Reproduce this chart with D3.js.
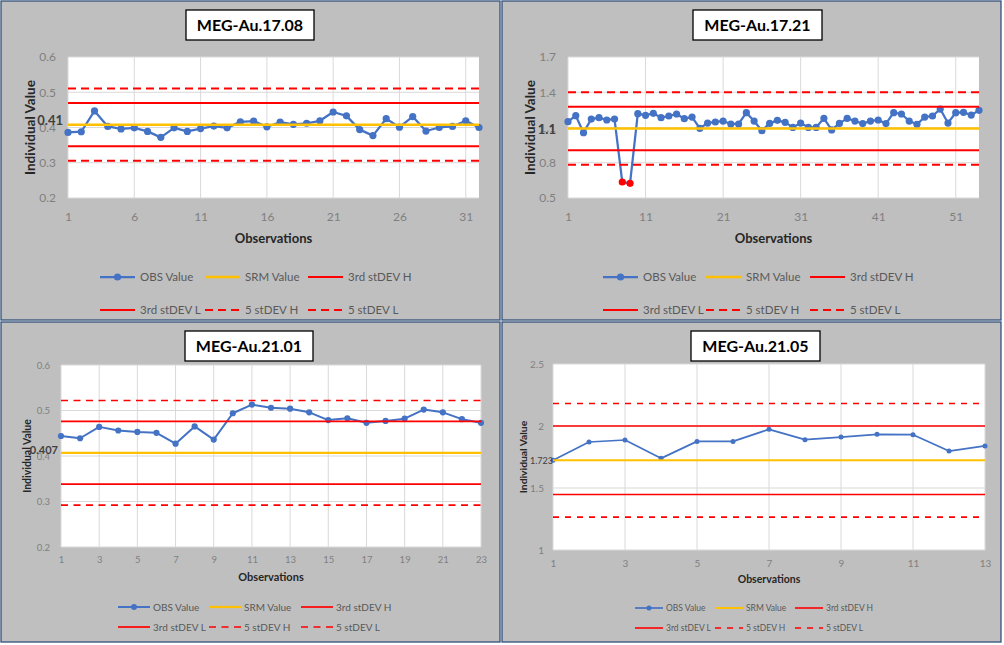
<!DOCTYPE html>
<html><head><meta charset="utf-8">
<script src="https://cdn.jsdelivr.net/npm/d3@7"></script>
<style>body{margin:0;background:#fff;} svg{display:block;} text{font-family:Lato, "Liberation Sans", sans-serif;}</style>
</head><body><svg id="c" width="1004" height="645"></svg>
<script>
// ---------- DATA ----------
const titles = ["MEG-Au.17.08", "MEG-Au.17.21", "MEG-Au.21.01", "MEG-Au.21.05"];
const seriesNames = ["OBS Value", "SRM Value", "3rd stDEV H", "3rd stDEV L", "5 stDEV H", "5 stDEV L"];

const obs1708 = [0.386, 0.388, 0.447, 0.403, 0.396, 0.399, 0.389, 0.372, 0.399, 0.389, 0.397, 0.404, 0.399, 0.416,
  0.418, 0.402, 0.415, 0.409, 0.412, 0.419, 0.444, 0.433, 0.394, 0.377, 0.425, 0.401, 0.431, 0.390, 0.400, 0.403, 0.419, 0.400];
const obs1721 = [1.150, 1.201, 1.056, 1.172, 1.184, 1.164, 1.172, 0.636, 0.625, 1.218, 1.204, 1.221, 1.184, 1.198,
  1.215, 1.175, 1.189, 1.093, 1.138, 1.147, 1.155, 1.130, 1.130, 1.226, 1.155, 1.073, 1.135, 1.161, 1.144, 1.101,
  1.138, 1.101, 1.101, 1.178, 1.079, 1.135, 1.178, 1.155, 1.133, 1.155, 1.164, 1.133, 1.226, 1.215, 1.155, 1.127,
  1.189, 1.198, 1.257, 1.138, 1.226, 1.229, 1.206, 1.246];
const obs2101 = [0.444, 0.439, 0.464, 0.456, 0.453, 0.451, 0.427, 0.465, 0.436, 0.494, 0.513, 0.506, 0.504, 0.496,
  0.479, 0.483, 0.473, 0.477, 0.482, 0.502, 0.496, 0.481, 0.473];
const obs2105 = [1.723, 1.871, 1.887, 1.739, 1.876, 1.876, 1.973, 1.890, 1.911, 1.933, 1.930, 1.798, 1.839];

// limits order: SRM, 3rd stDEV H, 3rd stDEV L, 5 stDEV H, 5 stDEV L
const limits1708 = [0.408, 0.4695, 0.3465, 0.5105, 0.3055];
const limits1721 = [1.092, 1.277, 0.907, 1.400, 0.784];
const limits2101 = [0.407, 0.476, 0.338, 0.522, 0.292];
const limits2105 = [1.723, 2.000, 1.448, 2.182, 1.265];

const srmLabels = ["0.41", "1.1", "0.407", "1.723"];

const yTicks1708 = [0.2, 0.3, 0.4, 0.5, 0.6];
const yTicks1721 = [0.5, 0.8, 1.1, 1.4, 1.7];
const yTicks2101 = [0.2, 0.3, 0.4, 0.5, 0.6];
const yTicks2105 = [1, 1.5, 2, 2.5];
const xTicks1708 = [1, 6, 11, 16, 21, 26, 31];
const xTicks1721 = [1, 11, 21, 31, 41, 51];
const xTicks2101 = [1, 3, 5, 7, 9, 11, 13, 15, 17, 19, 21, 23];
const xTicks2105 = [1, 3, 5, 7, 9, 11, 13];

// ---------- LAYOUT / STYLE ----------
const big = {tick: 12, title: 13.5, obsTitle: 13, leg: 11.5, lw: 2.25, r: 3.6, lim: 2, srm: 2.6, dash: "8,5", lab: 13, labW: "bold", legLen: 35, legGap: 5, legR: 3.6};
const small3 = {tick: 9.5, title: 10.5, obsTitle: 11, leg: 10, lw: 2, r: 3.1, lim: 1.7, srm: 2.2, dash: "7,5.5", lab: 11, labW: "bold", legLen: 32, legGap: 3, legR: 3};
const small4 = {tick: 10, title: 10.3, obsTitle: 10.5, leg: 8.5, lw: 1.7, r: 2.5, lim: 1.6, srm: 2, dash: "6,6", lab: 9, labW: "normal", legLen: 28, legGap: 3, legR: 2.5};

const panels = [
  {title: titles[0], obs: obs1708, lim: limits1708, xDom: [1, 32], yDom: [0.2, 0.6], xT: xTicks1708, yT: yTicks1708, lab: srmLabels[0],
   frame: [1, 1, 499, 319], plot: [68, 57, 479, 198], tbox: [186, 10, 128, 30], st: big,
   yPadR: 12, xLabY: 217, yTitleX: 30, obsY: 238, labX: 63, labDy: -4, legCols: [100, 205, 308], legRows: [277, 310]},
  {title: titles[1], obs: obs1721, lim: limits1721, xDom: [1, 54], yDom: [0.5, 1.7], xT: xTicks1721, yT: yTicks1721, lab: srmLabels[1],
   frame: [502, 1, 499, 319], plot: [568, 57, 979, 198], tbox: [693, 10, 129, 30], st: big,
   yPadR: 12, xLabY: 217, yTitleX: 530, obsY: 238, labX: 556, labDy: 1, legCols: [603, 706, 810], legRows: [277, 310]},
  {title: titles[2], obs: obs2101, lim: limits2101, xDom: [1, 23], yDom: [0.2, 0.6], xT: xTicks2101, yT: yTicks2101, lab: srmLabels[2],
   frame: [1, 322, 499, 320], plot: [61, 365, 481, 547], tbox: [185, 331, 128, 30], st: small3,
   yPadR: 11, xLabY: 560, yTitleX: 27, obsY: 577, labX: 58, labDy: -3, legCols: [118, 209, 301], legRows: [607, 627]},
  {title: titles[3], obs: obs2105, lim: limits2105, xDom: [1, 13], yDom: [1, 2.5], xT: xTicks2105, yT: yTicks2105, lab: srmLabels[3],
   frame: [502, 322, 499, 320], plot: [553, 364, 985, 550], tbox: [691, 331, 129, 30], st: small4,
   yPadR: 9, xLabY: 563, yTitleX: 523, obsY: 579, labX: 553, labDy: 1, legCols: [635, 715, 795], legRows: [608, 628]}
];

const BLUE = "#4472c4", GOLD = "#ffc000", RED = "#ff0000";
const limStyles = [
  {c: GOLD, dash: null, w: "srm"},
  {c: RED, dash: null, w: "lim"},
  {c: RED, dash: null, w: "lim"},
  {c: RED, dash: "d", w: "lim"},
  {c: RED, dash: "d", w: "lim"}
];

const svg = d3.select("#c");

panels.forEach(p => {
  const st = p.st;
  const g = svg.append("g");
  g.append("rect").attr("x", p.frame[0]).attr("y", p.frame[1]).attr("width", p.frame[2]).attr("height", p.frame[3])
    .attr("fill", "#bfbfbf").attr("stroke", "#33507a").attr("stroke-width", 1.3);

  const x = d3.scaleLinear().domain(p.xDom).range([p.plot[0], p.plot[2]]);
  const y = d3.scaleLinear().domain(p.yDom).range([p.plot[3], p.plot[1]]);

  g.append("rect").attr("x", p.plot[0]).attr("y", p.plot[1]).attr("width", p.plot[2] - p.plot[0]).attr("height", p.plot[3] - p.plot[1]).attr("fill", "#fff");

  // gridlines
  g.selectAll(".gy").data(p.yT).join("line").attr("x1", p.plot[0]).attr("x2", p.plot[2])
    .attr("y1", d => y(d)).attr("y2", d => y(d)).attr("stroke", "#d9d9d9").attr("stroke-width", 1);
  g.selectAll(".gx").data(p.xT).join("line").attr("y1", p.plot[1]).attr("y2", p.plot[3])
    .attr("x1", d => x(d)).attr("x2", d => x(d)).attr("stroke", "#d9d9d9").attr("stroke-width", 1);

  // axes
  const ay = g.append("g").attr("transform", `translate(${p.plot[0]},0)`)
    .call(d3.axisLeft(y).tickValues(p.yT).tickSize(0).tickPadding(p.yPadR).tickFormat(d => String(d)));
  ay.select(".domain").remove();
  ay.selectAll("text").attr("fill", "#7f7f7f").attr("font-size", st.tick).attr("font-family", "Lato");
  const ax = g.append("g").attr("transform", `translate(0,${p.plot[3]})`)
    .call(d3.axisBottom(x).tickValues(p.xT).tickSize(0).tickFormat(d => String(d)));
  ax.select(".domain").remove();
  ax.selectAll("text").attr("y", p.xLabY - p.plot[3]).attr("dy", "0.35em").attr("fill", "#7f7f7f").attr("font-size", st.tick).attr("font-family", "Lato");

  // axis titles
  g.append("text").attr("transform", `translate(${p.yTitleX},${(p.plot[1] + p.plot[3]) / 2}) rotate(-90)`)
    .attr("text-anchor", "middle").attr("dy", "0.35em").attr("font-weight", "bold").attr("font-size", st.title).attr("fill", "#262626").text("Individual Value");
  g.append("text").attr("x", (p.plot[0] + p.plot[2]) / 2).attr("y", p.obsY).attr("dy", "0.35em")
    .attr("text-anchor", "middle").attr("font-weight", "bold").attr("font-size", st.obsTitle).attr("fill", "#262626").text("Observations");

  // OBS series
  const line = d3.line().x((d, i) => x(i + 1)).y(d => y(d));
  g.append("path").datum(p.obs).attr("d", line).attr("fill", "none").attr("stroke", BLUE).attr("stroke-width", st.lw).attr("stroke-linejoin", "round");
  g.selectAll(".pt").data(p.obs).join("circle").attr("cx", (d, i) => x(i + 1)).attr("cy", d => y(d)).attr("r", st.r)
    .attr("fill", d => (d > p.lim[3] || d < p.lim[4]) ? RED : BLUE);

  // control limit lines
  p.lim.forEach((v, k) => {
    const s = limStyles[k];
    g.append("line").attr("x1", p.plot[0]).attr("x2", p.plot[2]).attr("y1", y(v)).attr("y2", y(v))
      .attr("stroke", s.c).attr("stroke-width", st[s.w]).attr("stroke-dasharray", s.dash ? st.dash : null);
  });

  // SRM data label
  g.append("text").attr("x", p.labX).attr("y", y(p.lim[0]) + p.labDy).attr("text-anchor", "end").attr("dy", "0.35em")
    .attr("font-weight", st.labW).attr("font-size", st.lab).attr("fill", "#404040").text(p.lab);

  // title box
  g.append("rect").attr("x", p.tbox[0]).attr("y", p.tbox[1]).attr("width", p.tbox[2]).attr("height", p.tbox[3])
    .attr("fill", "#fff").attr("stroke", "#000").attr("stroke-width", 1.3);
  g.append("text").attr("x", p.tbox[0] + p.tbox[2] / 2).attr("y", p.tbox[1] + p.tbox[3] / 2).attr("dy", "0.36em")
    .attr("text-anchor", "middle").attr("font-weight", "bold").attr("font-size", 16).attr("fill", "#000").text(p.title);

  // legend
  const legStyles = [{c: BLUE, dash: null, m: true, w: st.lw}].concat(limStyles.map(s => ({c: s.c, dash: s.dash, m: false, w: st[s.w]})));
  seriesNames.forEach((name, k) => {
    const row = Math.floor(k / 3), col = k % 3;
    const lx = p.legCols[col], ly = p.legRows[row];
    const s = legStyles[k];
    g.append("line").attr("x1", lx).attr("x2", lx + st.legLen).attr("y1", ly).attr("y2", ly)
      .attr("stroke", s.c).attr("stroke-width", s.w).attr("stroke-dasharray", s.dash ? st.dash : null);
    if (s.m) g.append("circle").attr("cx", lx + st.legLen / 2).attr("cy", ly).attr("r", st.legR).attr("fill", s.c);
    g.append("text").attr("x", lx + st.legLen + st.legGap).attr("y", ly).attr("dy", "0.35em")
      .attr("font-size", st.leg).attr("fill", "#595959").text(name);
  });
});
</script></body></html>
